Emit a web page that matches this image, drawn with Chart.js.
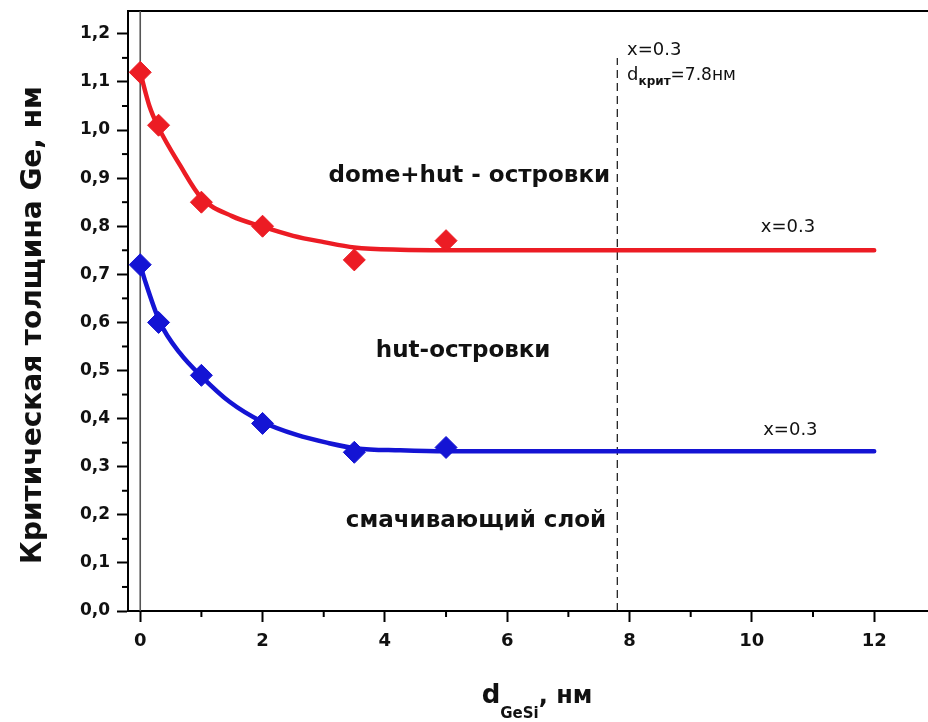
<!DOCTYPE html>
<html><head><meta charset="utf-8">
<script src="https://cdn.jsdelivr.net/npm/chart.js@4"></script>
<style>html,body{margin:0;padding:0;background:#fff}#wrap{width:928px;height:722px;position:relative}canvas{display:block}</style>
</head><body><div id="wrap"><canvas id="c" width="928" height="722" style="width:928px;height:722px"></canvas></div>
<script>
// ---- data ----
const pointsX    = [0, 0.3, 1, 2, 3.5, 5];
const redPoints  = [1.12, 1.01, 0.85, 0.80, 0.73, 0.77];
const bluePoints = [0.72, 0.60, 0.49, 0.39, 0.33, 0.34];

const redFitX  = [0, 0.15, 0.3, 0.65, 1.0, 1.5, 2.0, 2.5, 3.0, 3.5, 4.25, 5, 6, 8, 10, 12];
const redFitY  = [1.12, 1.05, 1.005, 0.927, 0.859, 0.821, 0.799, 0.780, 0.767, 0.756, 0.751, 0.75, 0.75, 0.75, 0.75, 0.75];
const blueFitX = [0, 0.075, 0.32, 0.65, 1.0, 1.46, 2.0, 2.56, 3.05, 3.54, 4.25, 5, 6, 8, 10, 12];
const blueFitY = [0.72, 0.688, 0.601, 0.536, 0.488, 0.435, 0.393, 0.366, 0.350, 0.338, 0.334, 0.332, 0.332, 0.332, 0.332, 0.332];

const critX = 7.8;               // d_крит
const critRange = [0, 1.15];
const xTicks = [0, 2, 4, 6, 8, 10, 12];
const xMinorTicks = [1, 3, 5, 7, 9, 11];
const yTicks = [0, 0.1, 0.2, 0.3, 0.4, 0.5, 0.6, 0.7, 0.8, 0.9, 1.0, 1.1, 1.2];
const yMinorTicks = [0.05, 0.15, 0.25, 0.35, 0.45, 0.55, 0.65, 0.75, 0.85, 0.95, 1.05, 1.15];

const RED = '#ec1c24', BLUE = '#1414d4';
const FONT = "'DejaVu Sans'";

function pts(xs, ys){ return xs.map((x,i)=>({x:x, y:ys[i]})); }

const decor = {
  id: 'decor',
  beforeDatasetsDraw(chart){
    const {ctx, chartArea:a} = chart;
    ctx.save();
    ctx.strokeStyle = '#000'; ctx.lineWidth = 2;
    ctx.beginPath(); ctx.moveTo(a.left, a.top); ctx.lineTo(a.right, a.top); ctx.stroke();
    ctx.restore();
  },
  afterDraw(chart){
    const {ctx, chartArea:a, scales:{x, y}} = chart;
    ctx.save();
    // minor ticks
    ctx.strokeStyle = '#000'; ctx.lineWidth = 2;
    xMinorTicks.forEach(v=>{ const px = x.getPixelForValue(v); ctx.beginPath(); ctx.moveTo(px, a.bottom); ctx.lineTo(px, a.bottom+6); ctx.stroke(); });
    yMinorTicks.forEach(v=>{ const py = y.getPixelForValue(v); ctx.beginPath(); ctx.moveTo(a.left, py); ctx.lineTo(a.left-6, py); ctx.stroke(); });

    ctx.fillStyle = '#111';
    // region labels
    ctx.font = 'bold 23px ' + FONT; ctx.textAlign = 'center'; ctx.textBaseline = 'alphabetic';
    ctx.fillText('dome+hut - островки', x.getPixelForValue(5.38), y.getPixelForValue(0.8925));
    ctx.fillText('hut-островки', x.getPixelForValue(5.28), y.getPixelForValue(0.529));
    ctx.fillText('смачивающий слой', x.getPixelForValue(5.49), y.getPixelForValue(0.175));
    // x=0.3 labels
    ctx.font = '18px ' + FONT;
    ctx.fillText('x=0.3', x.getPixelForValue(10.59), y.getPixelForValue(0.788));
    ctx.fillText('x=0.3', x.getPixelForValue(10.63), y.getPixelForValue(0.366));
    ctx.textAlign = 'left';
    const lx = x.getPixelForValue(7.96);
    ctx.fillText('x=0.3', lx, y.getPixelForValue(1.156));
    let by = y.getPixelForValue(1.104), cx = lx;
    ctx.font = '18px ' + FONT; ctx.fillText('d', cx, by); cx += ctx.measureText('d').width;
    ctx.font = 'bold 12px ' + FONT; ctx.fillText('крит', cx, by+5); cx += ctx.measureText('крит').width;
    ctx.font = '17px ' + FONT; ctx.fillText('=7.8нм', cx, by);

    // x axis title with subscript
    const parts = [['d','bold 26px '+FONT,0],['GeSi','bold 15px '+FONT,15],[', нм','bold 24px '+FONT,0]];
    let tw = 0; parts.forEach(p=>{ctx.font=p[1]; tw += ctx.measureText(p[0]).width;});
    let tx = 537 - tw/2; const tb = 703;
    parts.forEach(p=>{ctx.font=p[1]; ctx.fillText(p[0], tx, tb+p[2]); tx += ctx.measureText(p[0]).width;});

    // y axis title
    ctx.translate(41, 325); ctx.rotate(-Math.PI/2);
    ctx.textAlign = 'center'; ctx.font = 'bold 28px ' + FONT;
    ctx.fillText('Критическая толщина Ge, нм', 0, 0);
    ctx.restore();
  }
};

new Chart(document.getElementById('c'), {
  type: 'scatter',
  data: { datasets: [
    { label:'red points', data: pts(pointsX, redPoints), backgroundColor: RED, borderColor: RED, pointStyle:'rectRot', pointRadius: 11, pointHoverRadius: 11 },
    { label:'blue points', data: pts(pointsX, bluePoints), backgroundColor: BLUE, borderColor: BLUE, pointStyle:'rectRot', pointRadius: 11, pointHoverRadius: 11 },
    { type:'line', label:'red fit', data: pts(redFitX, redFitY), borderColor: RED, borderWidth: 4.5, pointRadius: 0, cubicInterpolationMode:'monotone', fill:false, borderCapStyle:'round' },
    { type:'line', label:'blue fit', data: pts(blueFitX, blueFitY), borderColor: BLUE, borderWidth: 4.5, pointRadius: 0, cubicInterpolationMode:'monotone', fill:false, borderCapStyle:'round' },
    { type:'line', label:'d crit', data: [{x:critX, y:critRange[0]}, {x:critX, y:critRange[1]}], borderColor:'#111', borderWidth: 1.2, borderDash:[8,5], pointRadius:0 },
    { type:'line', label:'zero', data: [{x:0, y:0}, {x:0, y:1.3}], borderColor:'#555', borderWidth: 1.6, pointRadius:0 }
  ]},
  options: {
    responsive: false, maintainAspectRatio: false, animation: false, devicePixelRatio: 1,
    layout: { autoPadding: false, padding: { top: 11, right: 0, left: 0, bottom: 0 } },
    plugins: { legend: { display:false }, tooltip: { enabled:false } },
    scales: {
      x: { type:'linear', min:-0.2, max:12.88,
        afterBuildTicks: s => { s.ticks = xTicks.map(v=>({value:v})); },
        afterFit: s => { s.height = 111; s.paddingLeft = 0; s.paddingRight = 0; },
        ticks: { color:'#111', font:{ family:'DejaVu Sans', size:18, weight:'bold' }, padding: 9, maxRotation:0, autoSkip:false, callback: v => String(v) },
        grid: { display:true, drawOnChartArea:false, tickLength:11, tickWidth:2, tickColor:'#000' },
        border: { display:true, color:'#000', width:2 }
      },
      y: { type:'linear', min:0, max:1.2475,
        afterBuildTicks: s => { s.ticks = yTicks.map(v=>({value:v})); },
        afterFit: s => { s.width = 128; s.paddingTop = 0; s.paddingBottom = 0; },
        ticks: { color:'#111', font:{ family:'DejaVu Sans', size:17, weight:'bold' }, padding: 7, autoSkip:false, callback: v => v.toFixed(1).replace('.', ',') },
        grid: { display:true, drawOnChartArea:false, tickLength:11, tickWidth:2, tickColor:'#000' },
        border: { display:true, color:'#000', width:2 }
      }
    }
  },
  plugins: [decor]
});
</script>
</body></html>
